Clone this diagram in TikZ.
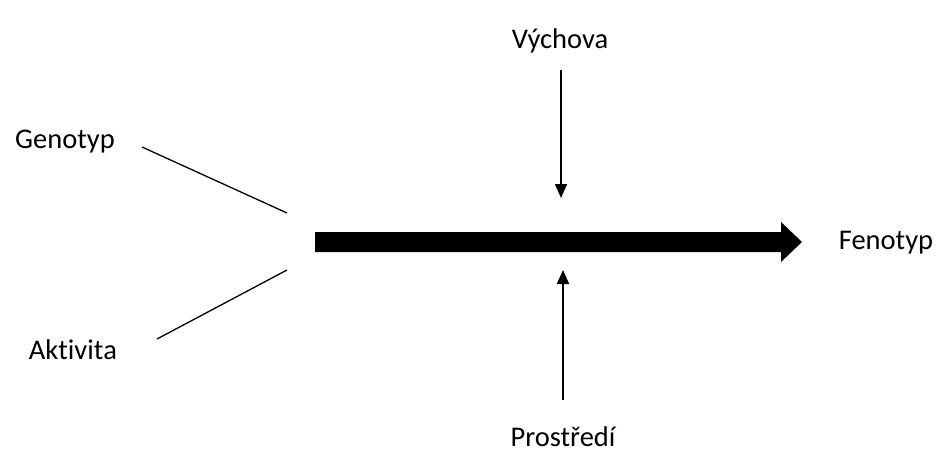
\documentclass[tikz,border=0pt]{standalone}
\usepackage{fontspec}
\setmainfont[RawFeature={-liga;-clig;-calt;-dlig}]{Carlito}
\usetikzlibrary{arrows.meta}
\begin{document}
\begin{tikzpicture}[x=1pt,y=-1pt,
  lbl/.style={font=\fontsize{28.5}{32}\selectfont, inner sep=0pt, anchor=center},
  thinline/.style={line width=1.3pt},
  thinarrow/.style={line width=1.6pt, -{Triangle[length=14pt,width=12pt]}}]
\useasboundingbox (0,0) rectangle (936,468);
\node[lbl] (vych) at (560,41) {Výchova};
\node[lbl] (pros) at (563,437) {Prostředí};
\node[lbl] (geno) at (65,142) {Genotyp};
\node[lbl] (akti) at (73,350) {Akt\kern0pt ivit\kern0pt a};
\node[lbl] (feno) at (886,243) {Fenotyp};
\coordinate (vs) at (561,70);
\coordinate (ve) at (561,198);
\coordinate (ps) at (563,400);
\coordinate (pe) at (563,270);
\coordinate (gs) at (142,147);
\coordinate (ge) at (287,213);
\coordinate (as) at (157,339);
\coordinate (ae) at (287,270);
\draw[thinarrow] (vs) -- (ve);
\draw[thinarrow] (ps) -- (pe);
\draw[thinline] (gs) -- (ge);
\draw[thinline] (as) -- (ae);
\fill (315,232) -- (781,232) -- (781,222) -- (802,242) -- (781,262) -- (781,252) -- (315,252) -- cycle;
\end{tikzpicture}
\end{document}
